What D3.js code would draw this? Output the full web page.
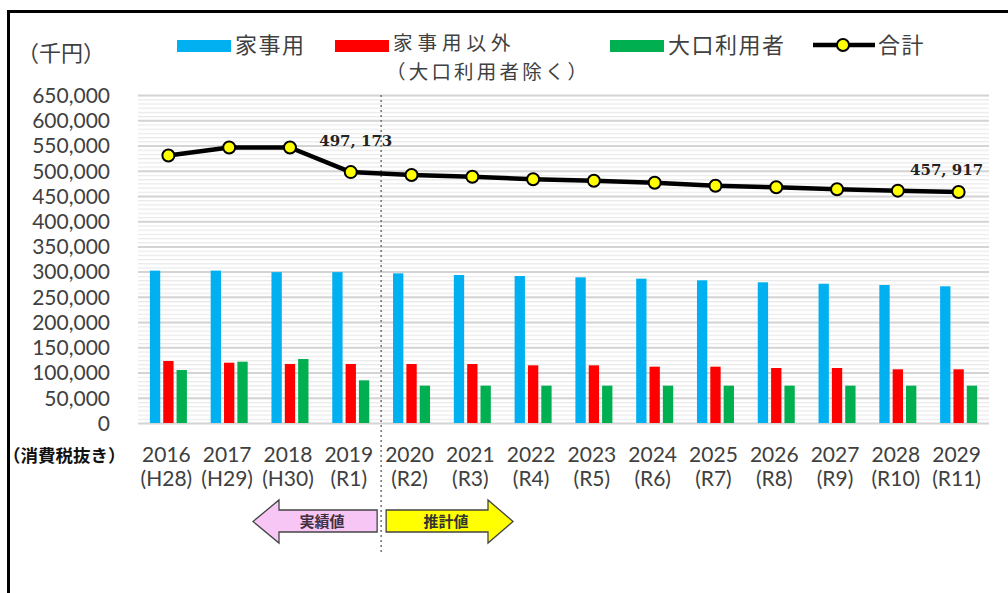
<!DOCTYPE html>
<html><head><meta charset="utf-8">
<script src="https://cdn.jsdelivr.net/npm/d3@7/dist/d3.min.js"></script>
<style>
html,body{margin:0;padding:0;background:#fff;}
svg{display:block;}
</style></head>
<body>
<svg id="chart" width="1008" height="593"></svg>
<script>
// ---- data ----
const years = ["2016","2017","2018","2019","2020","2021","2022","2023","2024","2025","2026","2027","2028","2029"];
const eras  = ["(H28)","(H29)","(H30)","(R1)","(R2)","(R3)","(R4)","(R5)","(R6)","(R7)","(R8)","(R9)","(R10)","(R11)"];
const household    = [302000,302000,299000,299000,296600,293300,291300,288700,286000,282800,278800,276000,273500,270900];
const nonHousehold = [122900,119500,117000,117000,116900,116900,114300,114300,111600,111600,109000,109000,106400,106400];
const largeUsers   = [105000,121500,126800,84600,74000,74000,74000,74000,74000,74000,74000,74000,74000,74000];
const total        = [530000,546000,546000,497173,491500,488100,482900,480200,476200,470300,467100,463100,460400,457917];
const yTicks = [0,50000,100000,150000,200000,250000,300000,350000,400000,450000,500000,550000,600000,650000];
const seriesNames = ["家事用","家事用以外","大口利用者"];
const seriesColors = ["#00B0F0","#FF0000","#00B050"];
const labelled = [{i:3, text:"497, 173"},{i:13, text:"457, 917"}];

// ---- layout ----
const svg = d3.select("#chart");
const L = 138, R = 989, T = 95, B = 423;
const x = d3.scaleBand().domain(years).range([L, R]);
const xSub = d3.scaleBand().domain(seriesNames).range([11.9, 48.9]).paddingInner(0.226);
const y = d3.scaleLinear().domain([0, 650000]).range([B, T]);
const textCol = "#404040";
const cjk = "'Noto Sans CJK JP', 'Noto Sans', sans-serif";
const latin = "Lato, 'Noto Sans', sans-serif";

// border
svg.append("path").attr("d", `M8.5,593 V11.5 H1008`).attr("fill","none").attr("stroke","#000").attr("stroke-width",3);

// striped background pattern
const defs = svg.append("defs");
const pat = defs.append("pattern").attr("id","stripes").attr("patternUnits","userSpaceOnUse")
  .attr("width",10).attr("height",(y(0)-y(50000))/6).attr("y",T);
pat.append("rect").attr("width",10).attr("height",1.2).attr("fill","#e9e9e9");
svg.append("rect").attr("x",L).attr("y",T).attr("width",R-L).attr("height",B-T).attr("fill","url(#stripes)");

// gridlines
svg.append("g").attr("transform",`translate(${L},0)`)
  .call(d3.axisLeft(y).tickValues(yTicks).tickSize(-(R-L)).tickFormat(""))
  .call(g=>g.select(".domain").remove())
  .call(g=>g.selectAll("line").attr("stroke","#d4d4d4").attr("stroke-width",2));

// y labels
svg.append("g").attr("transform",`translate(110,0)`)
  .call(d3.axisLeft(y).tickValues(yTicks).tickSize(0).tickPadding(0).tickFormat(d3.format(",")))
  .call(g=>g.select(".domain").remove())
  .call(g=>g.selectAll("text").attr("fill",textCol).attr("font-family",latin).attr("font-size",21).attr("dy","0.35em"));

// bars
const seriesData = [household, nonHousehold, largeUsers];
seriesData.forEach((vals, si) => {
  svg.append("g").selectAll("rect").data(vals).join("rect")
    .attr("x",(d,i)=>x(years[i]) + xSub(seriesNames[si]))
    .attr("width",xSub.bandwidth())
    .attr("y",d=>y(d))
    .attr("height",d=>y(0)-y(d))
    .attr("fill",seriesColors[si]);
});

// divider dashed line
const divX = x(years[4]);
svg.append("line").attr("x1",divX).attr("x2",divX).attr("y1",T).attr("y2",553)
  .attr("stroke","#707070").attr("stroke-width",1.5).attr("stroke-dasharray","2,3");

// total line
const cx = i => x(years[i]) + x.bandwidth()/2;
svg.append("path").datum(total)
  .attr("d", d3.line().x((d,i)=>cx(i)).y(d=>y(d)))
  .attr("fill","none").attr("stroke","#000").attr("stroke-width",4.5).attr("stroke-linejoin","round");
svg.append("g").selectAll("circle").data(total).join("circle")
  .attr("cx",(d,i)=>cx(i)).attr("cy",d=>y(d)).attr("r",6)
  .attr("fill","#FFFF00").attr("stroke","#000").attr("stroke-width",2);

// value labels
svg.append("g").selectAll("text").data(labelled).join("text")
  .attr("x",d=>cx(d.i) + (d.i===13 ? -12 : 5))
  .attr("y",d=>y(total[d.i]) - (d.i===13 ? 22 : 31))
  .attr("text-anchor","middle").attr("dy","0.35em")
  .attr("font-family","'DejaVu Serif', serif").attr("font-weight","bold").attr("font-size",15)
  .attr("fill","#222").text(d=>d.text);

// x labels
const xl = svg.append("g");
years.forEach((yr,i)=>{
  xl.append("text").attr("x",cx(i)-2).attr("y",455).attr("dy","0.35em").attr("text-anchor","middle")
    .attr("font-family",latin).attr("font-size",21).attr("fill",textCol).text(yr);
  xl.append("text").attr("x",cx(i)-2).attr("y",479).attr("dy","0.35em").attr("text-anchor","middle")
    .attr("font-family",latin).attr("font-size",21).attr("fill",textCol).text(eras[i]);
});
svg.append("text").attr("x",3).attr("y",456).attr("dy","0.35em")
  .attr("font-family",cjk).attr("font-weight","bold").attr("font-size",17.5).attr("fill","#111").text("（消費税抜き）");

// unit label
svg.append("text").attr("x",17).attr("y",53).attr("dy","0.35em")
  .attr("font-family",cjk).attr("font-size",22).attr("fill",textCol).text("（千円）");

// legend
const lg = svg.append("g").attr("font-family",cjk).attr("font-size",22).attr("fill",textCol);
const legItems = [{x:177, name:"家事用"},{x:335, name:"家事用以外"},{x:610, name:"大口利用者"}];
legItems.forEach((it,i)=>{
  lg.append("rect").attr("x",it.x).attr("y",40).attr("width",54).attr("height",12).attr("fill",seriesColors[i]);
  if (i === 1) {
    lg.append("text").attr("x",it.x+58).attr("y",43.5).attr("dy","0.35em")
      .attr("font-size",19.5).attr("letter-spacing",5).text(it.name);
    lg.append("text").attr("x",386).attr("y",72).attr("dy","0.35em")
      .attr("font-size",19.5).attr("letter-spacing",3.2).text("（大口利用者除く）");
  } else {
    lg.append("text").attr("x",it.x+58).attr("y",45).attr("dy","0.35em").attr("letter-spacing",1.5).text(it.name);
  }
});
lg.append("line").attr("x1",813).attr("x2",875).attr("y1",45).attr("y2",45).attr("stroke","#000").attr("stroke-width",4.5);
lg.append("circle").attr("cx",843).attr("cy",45).attr("r",6).attr("fill","#FFFF00").attr("stroke","#000").attr("stroke-width",2);
lg.append("text").attr("x",878).attr("y",45).attr("dy","0.35em").attr("letter-spacing",1.5).text("合計");

// arrows
const aT = 510, aB = 532, hT = 500, hB = 543, aM = (aT+aB)/2 + 0.5;
svg.append("path")
  .attr("d",`M${divX-4},${aT} H279 V${hT} L253,${aM} L279,${hB} V${aB} H${divX-4} Z`)
  .attr("fill","#F7C6F5").attr("stroke","#444").attr("stroke-width",1.3);
svg.append("text").attr("x",322).attr("y",aM).attr("dy","0.35em").attr("text-anchor","middle")
  .attr("font-family",cjk).attr("font-weight","bold").attr("font-size",15).attr("fill","#403040").text("実績値");
svg.append("path")
  .attr("d",`M${divX+5},${aT} H488 V${hT} L513,${aM} L488,${hB} V${aB} H${divX+5} Z`)
  .attr("fill","#FFFF00").attr("stroke","#444").attr("stroke-width",1.3);
svg.append("text").attr("x",446).attr("y",aM).attr("dy","0.35em").attr("text-anchor","middle")
  .attr("font-family",cjk).attr("font-weight","bold").attr("font-size",15).attr("fill","#333").text("推計値");
</script>
</body></html>
